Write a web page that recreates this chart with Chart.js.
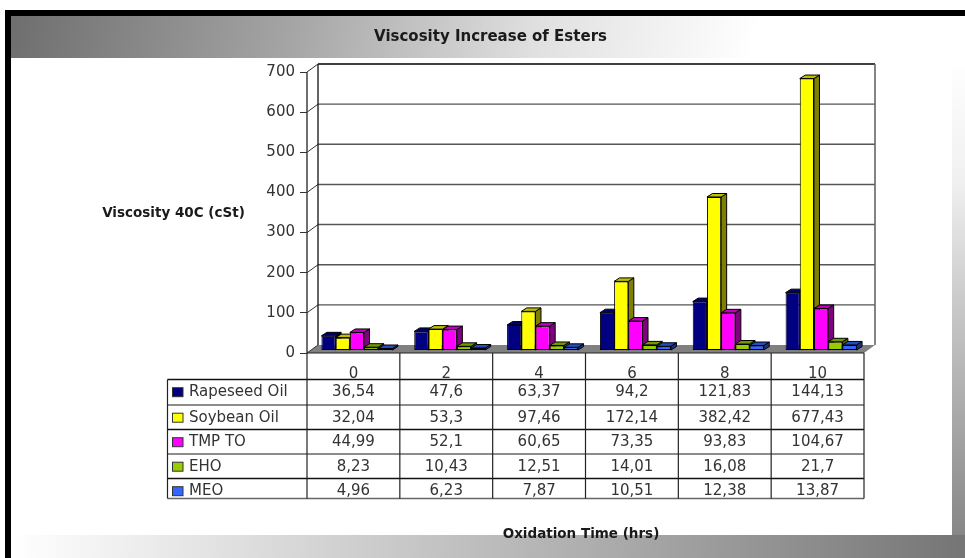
<!DOCTYPE html>
<html>
<head>
<meta charset="utf-8">
<title>Viscosity Increase of Esters</title>
<script src="https://cdn.jsdelivr.net/npm/chart.js@4"></script>
<style>
    html, body { margin: 0; padding: 0; background: #fff; overflow: hidden; }
    #page { position: relative; width: 965px; height: 558px; }
    #page div, #page canvas { position: absolute; }
    #frame-top { left: 5px; top: 10px; width: 960px; height: 6px; background: #000; }
    #frame-left { left: 5px; top: 10px; width: 6px; height: 548px; background: #000; }
    #header { left: 11px; top: 16px; width: 954px; height: 42px; background: linear-gradient(100deg, #6e6e6e 0%, #a6a6a6 30%, #e0e0e0 55%, #fff 78%); }
    #band-right { left: 952px; top: 58px; width: 13px; height: 500px; background: linear-gradient(to bottom, #fff 0%, #f0f0f0 25%, #c8c8c8 50%, #808080 100%); }
    #band-bottom { left: 11px; top: 535px; width: 954px; height: 23px; background: linear-gradient(to right, #fff 0%, #e4e4e4 20%, #a8a8a8 65%, #757575 100%); }
    #viscosityChart { left: 0; top: 0; }
</style>
</head>
<body>
<div id="page">
    <div id="frame-top"></div>
    <div id="frame-left"></div>
    <div id="header"></div>
    <div id="band-right"></div>
    <div id="band-bottom"></div>
    <canvas id="viscosityChart" width="965" height="558"></canvas>
</div>
<script>
const hours = ['0', '2', '4', '6', '8', '10'];
const yTicks = [0, 100, 200, 300, 400, 500, 600, 700];

const rapeseedOil = [36.54, 47.6, 63.37, 94.2, 121.83, 144.13];
const soybeanOil = [32.04, 53.3, 97.46, 172.14, 382.42, 677.43];
const tmpTo = [44.99, 52.1, 60.65, 73.35, 93.83, 104.67];
const eho = [8.23, 10.43, 12.51, 14.01, 16.08, 21.7];
const meo = [4.96, 6.23, 7.87, 10.51, 12.38, 13.87];

const seriesNames = ['Rapeseed Oil', 'Soybean Oil', 'TMP TO', 'EHO', 'MEO'];
const seriesValues = [rapeseedOil, soybeanOil, tmpTo, eho, meo];
const frontColors = ['#000080', '#ffff00', '#ff00ff', '#99cc00', '#3366ff'];
const topColors = ['#000066', '#bfbf00', '#bf00bf', '#739900', '#264dbf'];
const sideColors = ['#000050', '#808000', '#800080', '#4d6600', '#1a3380'];

const titleText = 'Viscosity Increase of Esters';
const yAxisText = 'Viscosity 40C (cSt)';
const xAxisText = 'Oxidation Time (hrs)';

const FONT = '"DejaVu Sans", sans-serif';
const WALL_DX = 11, WALL_DY = -8;   // offset of the back wall from the front plane
const BAR_DX = 3.5, BAR_DY = -2.5;  // bars stand a little way onto the floor
const BAR_DEPTH_X = 5.5, BAR_DEPTH_Y = -3.5;
const TABLE_LEFT = 167.5;
const rowLines = [379.5, 405, 429.5, 454, 478.5, 498.5];

function polygon(ctx, points, fill, stroke) {
    ctx.beginPath();
    points.forEach((p, i) => i ? ctx.lineTo(p[0], p[1]) : ctx.moveTo(p[0], p[1]));
    ctx.closePath();
    if (fill) { ctx.fillStyle = fill; ctx.fill(); }
    if (stroke) { ctx.strokeStyle = stroke; ctx.lineWidth = 1; ctx.stroke(); }
}

function line(ctx, x1, y1, x2, y2, color, width) {
    ctx.beginPath();
    ctx.moveTo(x1, y1);
    ctx.lineTo(x2, y2);
    ctx.strokeStyle = color;
    ctx.lineWidth = width;
    ctx.stroke();
}

// Floor, back wall and gridlines behind the bars
function drawWalls(chart) {
    const { ctx, chartArea: a, scales: { y } } = chart;
    const zero = y.getPixelForValue(0), top = y.getPixelForValue(700);
    polygon(ctx, [[a.left, zero], [a.left + WALL_DX, zero + WALL_DY], [a.right + WALL_DX, zero + WALL_DY], [a.right, zero]], '#808080');
    yTicks.forEach(v => {
        const py = y.getPixelForValue(v);
        line(ctx, a.left, py, a.left + WALL_DX, py + WALL_DY, '#333', 1);
        if (v > 0) line(ctx, a.left + WALL_DX, py + WALL_DY, a.right + WALL_DX, py + WALL_DY, v === 700 ? '#000' : '#555', 1.4);
    });
    line(ctx, a.left, zero, a.left, top, '#333', 1.4);
    line(ctx, a.left + WALL_DX, zero + WALL_DY, a.left + WALL_DX, top + WALL_DY, '#222', 1.4);
    line(ctx, a.right + WALL_DX, zero + WALL_DY, a.right + WALL_DX, top + WALL_DY, '#666', 1.6);
}

// Side and top faces of every bar, taken from the bar elements
function drawBarFaces(chart) {
    const { ctx } = chart;
    chart.data.datasets.forEach((ds, d) => {
        chart.getDatasetMeta(d).data.forEach(bar => {
            const l = bar.x - bar.width / 2, r = bar.x + bar.width / 2;
            polygon(ctx, [[r, bar.y], [r + BAR_DEPTH_X, bar.y + BAR_DEPTH_Y], [r + BAR_DEPTH_X, bar.base + BAR_DEPTH_Y], [r, bar.base]], sideColors[d], '#000');
            polygon(ctx, [[l, bar.y], [l + BAR_DEPTH_X, bar.y + BAR_DEPTH_Y], [r + BAR_DEPTH_X, bar.y + BAR_DEPTH_Y], [r, bar.y]], topColors[d], '#000');
        });
    });
}

// Data table under the plot, with the series swatches in its first column
function drawTable(chart) {
    const { ctx, chartArea: a, scales: { x, y } } = chart;
    const zero = y.getPixelForValue(0);
    const colWidth = (a.right - a.left) / hours.length;
    const colX = hours.map((h, i) => a.left + i * colWidth).concat(a.right);
    const bottom = rowLines[rowLines.length - 1];

    ctx.save();
    ctx.font = '15px ' + FONT;
    ctx.textBaseline = 'middle';
    seriesNames.forEach((name, s) => {
        const rowTop = rowLines[s], rowBottom = rowLines[s + 1];
        const mid = rowTop + 12.7;
        ctx.save();
        ctx.beginPath();
        ctx.rect(TABLE_LEFT, rowTop, a.right - TABLE_LEFT, rowBottom - rowTop);
        ctx.clip();
        ctx.fillStyle = frontColors[s];
        ctx.strokeStyle = '#333';
        ctx.lineWidth = 1;
        ctx.fillRect(172.5, mid - 4.5, 10.5, 9);
        ctx.strokeRect(172.5, mid - 4.5, 10.5, 9);
        ctx.fillStyle = '#333';
        ctx.textAlign = 'left';
        ctx.fillText(name, 189, mid);
        ctx.textAlign = 'center';
        seriesValues[s].forEach((v, i) => {
            ctx.fillText(String(v).replace('.', ','), x.getPixelForValue(i), mid);
        });
        ctx.restore();
    });
    rowLines.forEach((ry, i) => line(ctx, i ? TABLE_LEFT : a.left - 139.5, ry, a.right, ry, i % 2 ? '#666' : '#111', 1.3));
    line(ctx, TABLE_LEFT, rowLines[0], TABLE_LEFT, bottom, '#222', 1.2);
    colX.forEach(cx => line(ctx, cx, zero, cx, bottom, '#222', 1.2));
    line(ctx, a.left, zero, a.right, zero, '#222', 1.2);
    ctx.restore();
}

function drawCaptions(chart) {
    const { ctx } = chart;
    ctx.save();
    ctx.fillStyle = '#1a1a1a';
    ctx.textAlign = 'center';
    ctx.textBaseline = 'middle';
    ctx.font = 'bold 15px ' + FONT;
    ctx.fillText(titleText, 490.5, 37);
    ctx.font = 'bold 13.5px ' + FONT;
    ctx.fillText(yAxisText, 173.5, 213);
    ctx.fillText(xAxisText, 581, 534);
    ctx.restore();
}

const bars3d = {
    id: 'bars3d',
    beforeDatasetsDraw(chart) {
        drawWalls(chart);
        chart.ctx.save();
        chart.ctx.translate(BAR_DX, BAR_DY);
        drawBarFaces(chart);
    },
    afterDatasetsDraw(chart) {
        chart.ctx.restore();
        drawTable(chart);
        drawCaptions(chart);
    }
};

new Chart(document.getElementById('viscosityChart'), {
    type: 'bar',
    data: {
        labels: hours,
        datasets: seriesNames.map((name, s) => ({
            label: name,
            data: seriesValues[s],
            backgroundColor: frontColors[s],
            borderColor: '#000',
            borderWidth: 1,
            borderSkipped: false,
            categoryPercentage: 0.765,
            barPercentage: 1,
            clip: false
        }))
    },
    options: {
        responsive: false,
        animation: false,
        layout: { padding: { left: 0, top: 72, right: 101, bottom: 0 } },
        plugins: { legend: { display: false }, tooltip: { enabled: false } },
        scales: {
            x: {
                afterFit: s => { s.height = 205; },
                grid: { display: false },
                border: { display: false },
                ticks: { color: '#333', font: { family: FONT, size: 15 }, padding: 4 }
            },
            y: {
                min: 0,
                max: 700,
                afterFit: s => { s.width = 307; },
                afterBuildTicks: s => { s.ticks = yTicks.map(v => ({ value: v })); },
                grid: { drawOnChartArea: false, tickLength: 7, color: '#333' },
                border: { display: false },
                ticks: { color: '#333', font: { family: FONT, size: 15 }, padding: 5 }
            }
        }
    },
    plugins: [bars3d]
});
</script>
</body>
</html>
